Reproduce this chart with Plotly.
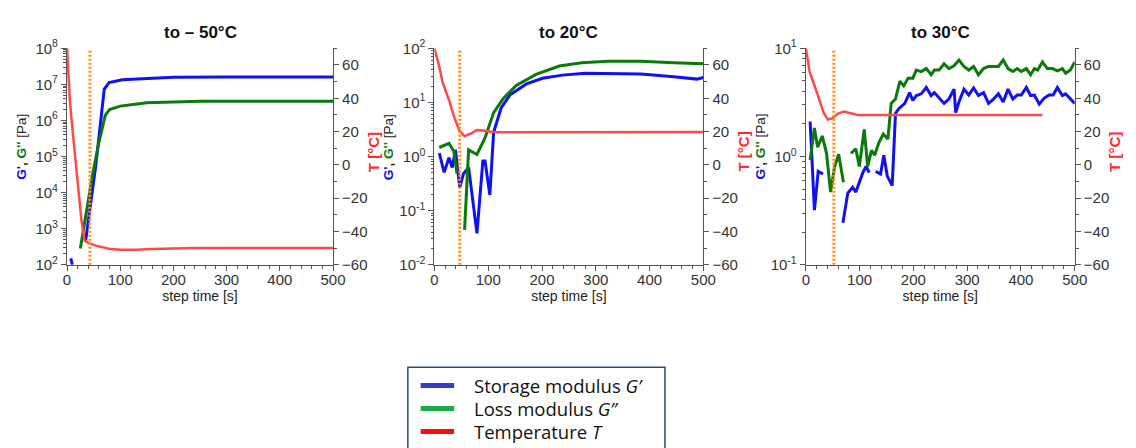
import plotly.graph_objects as go

# ---- data -------------------------------------------------------------
panel_titles = ["to \u2013 50°C", "to 20°C", "to 30°C"]
log_decades = [[2, 3, 4, 5, 6, 7, 8], [-2, -1, 0, 1, 2], [-1, 0, 1]]
log_ticktext = [[f"10<sup>{k}</sup>" for k in d] for d in log_decades]
temp_range = [-60, 70]
cooling_end = [43, 47, 52]  # time [s] at which the set temperature is reached

# cooling to -50 °C
t1_gp = [7, 10, None, 35, 54, 70, 79, 104, 159, 200, 300, 500]
gp1 = [150, 100, None, 470, 5.6e4, 7.4e6, 1.12e7, 1.35e7, 1.45e7, 1.58e7, 1.6e7, 1.6e7]
t1_gpp = [25, 39, 48, 60, 72, 80, 100, 150, 250, 500]
gpp1 = [282, 4.4e3, 3.2e4, 2.5e5, 1.4e6, 2.0e6, 2.5e6, 3.1e6, 3.4e6, 3.4e6]
t1_T = [0, 5, 10, 15, 20, 27, 33, 41, 54, 79, 100, 130, 160, 200, 240, 500]
T1 = [70, 40, 22, 5, -12, -33, -45.5, -47, -48.5, -50.4, -51, -51, -50.5, -50.1, -49.9, -49.9]

# cooling to 20 °C
t2_gp = [9, 18, 27, 33, 39, 47, 54, 63.5, 79, 90, 94, 103, 110, 124, 140, 171, 201, 238,
         280, 323, 384, 445, 488, 500]
gp2 = [1.16, 0.51, 0.95, 0.63, 1.33, 0.27, 0.48, 0.63, 0.038, 0.83, 0.83, 0.195, 2.8, 7.9,
       13.7, 22, 28, 32, 34.7, 34, 33.4, 30, 27, 29]
t2_gpp = [9, 27, 36, 42, None, 56, 63.5, 79, 94, 110, 128, 152, 189, 232, 274, 323, 384, 445, 500]
gpp2 = [1.47, 1.75, 1.25, 0.48, None, 0.044, 1.33, 1.09, 2.2, 6.5, 11.9, 20.6, 33, 47, 54,
        57.6, 57.6, 54, 51.8]
t2_T = [0, 9, 15, 27, 37, 46, 56, 67, 79, 91, 107, 119, 500]
T2 = [70, 59, 49.7, 39, 28.4, 20.7, 17.2, 18.7, 21, 20.7, 19.7, 19.6, 19.8]

# cooling to 30 °C
t3_gp = [8, 16, 23, 32, None, 69, 78, 87, 93, 106, 112, 118, None,
         130, 139, 145, 151.5, 160.6, 166.7, 172.7, 184, 193, 199, 205.5, 214.6, 224, 233,
         239, 248, 257, 266, 275.6, 278.7, 284.8, 294, 303, 312, 321, 330.5, 339.7, 349,
         358, 367, 376, 385, 393, 400.6, 410, 418, 425, 434, 443, 452, 460, 467.7, 477,
         483, 492, 500]
gp3 = [2.11, 0.32, 0.73, 0.69, None, 0.245, 0.46, 0.52, 0.47, 0.71, 0.81, 0.71, None,
       0.73, 0.69, 1.03, 0.66, 0.54, 2.5, 2.77, 3.1, 3.9, 3.3, 3.66, 3.8, 4.35, 3.66,
       3.9, 3.5, 3.1, 3.4, 4.2, 2.55, 3.2, 4.2, 3.7, 4.3, 3.66, 3.9, 3.1, 3.4,
       3.8, 3.2, 4.2, 3.4, 3.7, 3.7, 4.35, 3.66, 3.7, 3.05, 3.45, 3.7, 3.7, 4.35, 3.66,
       3.8, 3.4, 3.1]
t3_gpp = [8, 16, 22, 30.5, 38.5, 46, 53.7, 61, 70, None,
          84, 93, 99.5, 108.6, 115, 122, 128, 136, 144, 152.6, 158.7, 166.7, 175, 182, 190,
          199, 205.5, 214.6, 224, 233, 239, 248, 257, 266, 275.6, 284.8, 294, 303, 312, 321,
          330.5, 339.7, 349, 358, 367, 376, 385, 393, 400.6, 410, 418, 425, 431, 440, 449,
          458.6, 467.7, 477, 483, 492, 500]
gpp3 = [0.93, 1.84, 1.22, 1.55, 1.07, 0.47, 0.81, 1.05, 0.58, None,
        1.07, 1.18, 0.81, 1.78, 0.81, 1.14, 1.03, 1.35, 1.61, 1.45, 3.1, 3.4, 4.98, 4.5, 5.3,
        5.3, 6.3, 6.1, 6.5, 5.7, 6.3, 6.3, 7.2, 6.5, 6.9, 7.8, 6.8, 6.3, 6.8, 5.7,
        6.5, 6.8, 6.8, 6.8, 7.8, 6.5, 6.1, 6.5, 6.1, 6.5, 5.7, 6.5, 6.3, 7.5, 6.5,
        6.5, 6.2, 6.5, 5.9, 6.3, 7.5]
t3_T = [0, 7, 16.5, 25.6, 33.5, 41, 50, 59, 71, 83.5, 96, 440]
T3 = [70, 56, 47.4, 38.8, 31, 27.2, 28.1, 30.7, 32, 31, 30, 30]

legend_names = ["Storage modulus <i>G\u2019</i>", "Loss modulus <i>G\u2019\u2019</i>",
                "Temperature <i>T</i>"]

# ---- styling ----------------------------------------------------------
W, H = 1136, 448
BLUE, GREEN, RED, ORANGE = "#1010f5", "#0a7a0a", "#ff4848", "#ff8c1a"
LEG_COLORS = ["#3a3ac8", "#1aaa48", "#f01010"]
AXC = "#555555"
FONT = "Liberation Sans"

px_left = [64, 437, 814]
px_right = [334, 710, 1087]
px_top, px_bottom = 39, 265
y_dom = [1 - px_bottom / H, 1 - px_top / H]


def px(x):
    return x / W


def py(y):
    return 1 - y / H


panels = [
    (t1_gp, gp1, t1_gpp, gpp1, t1_T, T1),
    (t2_gp, gp2, t2_gpp, gpp2, t2_T, T2),
    (t3_gp, gp3, t3_gpp, gpp3, t3_T, T3),
]

fig = go.Figure()
layout = dict(
    width=W, height=H, margin=dict(l=0, r=0, t=0, b=0),
    paper_bgcolor="white", plot_bgcolor="white",
    font=dict(family=FONT, size=14, color="#333333"),
    showlegend=False,
)
annotations = []
shapes = []

left_title = ("<b><span style='color:#1010f5'>G'</span>, "
              "<span style='color:#0a7a0a'>G''</span></b> [Pa]")

for i, (tg1, g1, tg2, g2, tT, T) in enumerate(panels):
    n = i + 1
    xs = "x" if n == 1 else f"x{n}"
    yl = "y" if n == 1 else f"y{2 * i + 1}"
    yr = f"y{2 * i + 2}"
    xkey = "xaxis" if n == 1 else f"xaxis{n}"
    ylkey = "yaxis" if n == 1 else f"yaxis{2 * i + 1}"
    yrkey = f"yaxis{2 * i + 2}"

    fig.add_trace(go.Scatter(x=tg1, y=g1, xaxis=xs, yaxis=yl, mode="lines",
                             line=dict(color=BLUE, width=3), connectgaps=False))
    fig.add_trace(go.Scatter(x=tg2, y=g2, xaxis=xs, yaxis=yl, mode="lines",
                             line=dict(color=GREEN, width=3), connectgaps=False))
    fig.add_trace(go.Scatter(x=tT, y=T, xaxis=xs, yaxis=yr, mode="lines",
                             line=dict(color=RED, width=2.5)))

    common = dict(showline=True, linecolor=AXC, linewidth=1.2, ticks="outside",
                  tickcolor=AXC, showgrid=False, zeroline=False,
                  tickfont=dict(family=FONT, size=15, color="#333333"))
    layout[xkey] = dict(
        domain=[px(px_left[i]), px(px_right[i])], anchor=yl, range=[0, 500],
        tick0=0, dtick=100, ticklen=5, ticklabelstandoff=-4,
        minor=dict(ticks="outside", dtick=20, ticklen=3, tickcolor=AXC),
        title=dict(text="step time [s]", standoff=4,
                   font=dict(family=FONT, size=14, color="#222222")),
        **common)
    layout[ylkey] = dict(
        domain=y_dom, anchor=xs, type="log",
        range=[log_decades[i][0], log_decades[i][-1]],
        tickvals=[10 ** k for k in log_decades[i]], ticktext=log_ticktext[i], ticklen=5,
        minor=dict(ticks="outside", ticklen=2.5, tickcolor=AXC, dtick="D1"),
        **common)
    layout[yrkey] = dict(
        overlaying=yl, anchor=xs, side="right", range=temp_range, tick0=-60, dtick=20,
        ticklen=5, minor=dict(ticks="outside", dtick=10, ticklen=3, tickcolor=AXC),
        **common)

    # panel title and axis titles
    annotations.append(dict(
        text=f"<b>{panel_titles[i]}</b>", xref="paper", yref="paper",
        x=px((px_left[i] + px_right[i]) / 2), y=py(22), xanchor="center",
        yanchor="middle", showarrow=False,
        font=dict(family=FONT, size=17, color="#111111")))
    annotations.append(dict(
        text=left_title, xref="paper", yref="paper", x=px(px_left[i] - 46), y=py(142),
        xanchor="center", yanchor="middle", textangle=-90, showarrow=False,
        font=dict(family=FONT, size=13.5, color="#222222")))
    annotations.append(dict(
        text="<b>T [°C]</b>", xref="paper", yref="paper", x=px(px_right[i] + 41), y=py(147),
        xanchor="center", yanchor="middle", textangle=-90, showarrow=False,
        font=dict(family=FONT, size=15, color="#ff2a2a")))

    shapes.append(dict(
        type="line", xref=xs, yref=f"{yl} domain", x0=cooling_end[i], x1=cooling_end[i],
        y0=0, y1=0.99, line=dict(color=ORANGE, width=3, dash="2px,2px"), layer="above"))

# legend box with colour keys
shapes.append(dict(type="rect", xref="paper", yref="paper", x0=px(410), x1=px(671),
                   y0=py(462), y1=py(372), line=dict(color="#2b4a78", width=1.5),
                   fillcolor="white", layer="above"))
for k, (name, col) in enumerate(zip(legend_names, LEG_COLORS)):
    row_y = 391 + 24 * k
    shapes.append(dict(type="line", xref="paper", yref="paper", x0=px(423), x1=px(457),
                       y0=py(row_y), y1=py(row_y), line=dict(color=col, width=5),
                       layer="above"))
    annotations.append(dict(
        text=name, xref="paper", yref="paper", x=px(475), y=py(row_y), xanchor="left",
        yanchor="middle", showarrow=False,
        font=dict(family="Open Sans", size=18.5, color="#111111")))

layout["annotations"] = annotations
layout["shapes"] = shapes
fig.update_layout(**layout)

fig.write_html("out.html")
